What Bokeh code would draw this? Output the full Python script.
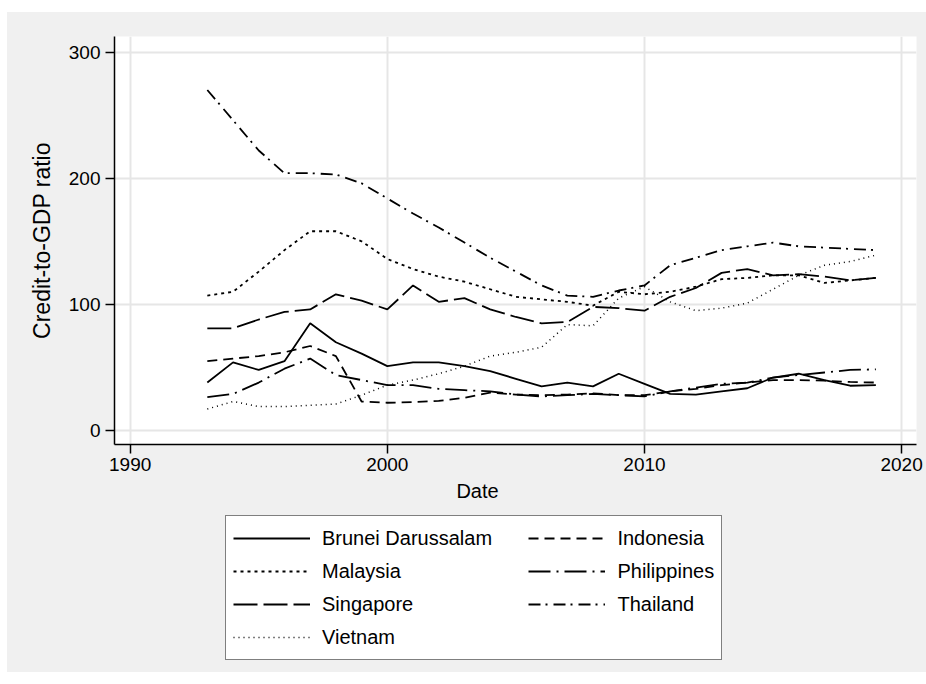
from bokeh.plotting import figure
from bokeh.layouts import column
from bokeh.models import Range1d, FixedTicker, Legend, LegendItem, Label
from bokeh.embed import file_html
from bokeh.resources import INLINE

years = list(range(1993, 2020))

brunei = [38, 54, 48, 55, 85, 70, 61, 51, 54, 54, 51, 47, 41, 35, 38, 35, 45, 37,
          29, 28.5, 31, 33.5, 42, 45, 40, 35.5, 36]
indonesia = [55, 57, 59, 62, 67, 59, 23, 22, 22.5, 23.5, 26, 30, 28.5, 28, 28.5, 29.5,
             28, 28, 31, 33, 36, 38, 40, 40, 39.5, 38.5, 38]
malaysia = [107, 110, 126, 143, 158, 158, 150, 136, 128, 122, 118, 112, 106, 104, 102,
            99, 110, 108, 110, 114, 120, 121, 123, 123, 117, 119, 121]
philippines = [26.5, 29, 38, 49, 57, 44, 40, 36, 36, 33, 32, 31, 28.5, 27, 28, 29, 28,
               27, 31, 34, 37, 38, 42, 44, 46, 48, 48.5]
singapore = [81, 81, 88, 94, 96, 108, 103, 96, 115, 102, 105, 96, 90, 85, 86, 98, 97,
             95, 106, 113, 125, 128, 123, 124, 122, 119, 121]
thailand = [270, 246, 222, 204, 204, 203, 196, 184, 172, 161, 149, 137, 126, 115, 107,
            106, 111, 115, 131, 137, 143, 146, 149, 146, 145, 144, 143]
vietnam = [17, 23, 19, 19, 20, 21, 28, 36, 40, 45, 51, 59, 62, 66, 84, 83, 105, 114,
           102, 95, 97, 101, 112, 123, 131, 134, 139]

x_ticks = [1990, 2000, 2010, 2020]
y_ticks = [0, 100, 200, 300]

FONT = "Liberation Sans"
BG = "#f0f0f0"
OFF_X, OFF_Y = 7, 12          # white page strip left of / above the graph
W = 926 - OFF_X
LEFT = 114 - OFF_X
RIGHT = 926 - 916

p = figure(width=W, height=479 - OFF_Y, output_backend="svg", toolbar_location=None,
           x_range=Range1d(1989.39, 2020.58), y_range=Range1d(-11.1, 312.4),
           min_border_left=LEFT, min_border_right=RIGHT, min_border_top=36 - OFF_Y,
           min_border_bottom=35)
p.background_fill_color = "white"
p.border_fill_color = BG
p.outline_line_color = None

for ax in (p.xaxis[0], p.yaxis[0]):
    ax.axis_line_color = "black"
    ax.axis_line_width = 1.5
    ax.major_tick_line_color = "black"
    ax.major_tick_line_width = 1.5
    ax.major_tick_out = 9
    ax.major_tick_in = 0
    ax.minor_tick_line_color = None
    ax.major_label_text_font = FONT
    ax.major_label_text_font_size = "19px"
    ax.major_label_text_color = "black"
    ax.axis_label_text_font = FONT
    ax.axis_label_text_font_style = "normal"
    ax.axis_label_text_color = "black"

p.xaxis.ticker = FixedTicker(ticks=x_ticks)
p.yaxis.ticker = FixedTicker(ticks=y_ticks)
p.xaxis.major_label_standoff = 4
p.yaxis.major_label_standoff = 5
p.yaxis.major_label_orientation = "horizontal"
p.yaxis.axis_label = "Credit-to-GDP ratio"
p.yaxis.axis_label_text_font_size = "23px"
p.yaxis.axis_label_standoff = 11

p.xgrid.ticker = FixedTicker(ticks=x_ticks)
p.ygrid.ticker = FixedTicker(ticks=y_ticks)
for g in (p.xgrid[0], p.ygrid[0]):
    g.grid_line_color = "#e6e6e6"
    g.grid_line_width = 2

series = [
    ("Brunei Darussalam", brunei, "solid", 1.8),
    ("Indonesia", indonesia, "10 6", 1.8),
    ("Malaysia", malaysia, "3 4", 1.8),
    ("Philippines", philippines, "22 6 2 6", 1.8),
    ("Singapore", singapore, "24 6", 1.8),
    ("Thailand", thailand, "12 5 2 6", 1.8),
    ("Vietnam", vietnam, "1 4", 1.5),
]

# lower strip: x-axis title and legend (x in page pixels, y from strip top)
H2 = 193
q = figure(width=W, height=H2, output_backend="svg", toolbar_location=None,
           x_range=Range1d(114, 916), y_range=Range1d(H2, 0),
           x_axis_location=None, y_axis_location=None,
           min_border_left=LEFT, min_border_right=RIGHT,
           min_border_top=0, min_border_bottom=0)
q.background_fill_color = BG
q.border_fill_color = BG
q.outline_line_color = None
q.grid.visible = False

items = []
for name, vals, dash, lw in series:
    p.line(years, vals, line_color="black", line_width=lw, line_dash=dash)
    # off-screen twin so the legend (in the lower strip) can draw its sample
    r = q.line(x=[0, 1], y=[-50, -50], line_color="black", line_width=lw,
               line_dash=dash)
    label = name + ("\u00a0" * 6 if name == "Brunei Darussalam" else "")
    items.append(LegendItem(label=label, renderers=[r]))

date_label = Label(x=477, y=11, text="Date", text_align="center",
                   text_baseline="middle", text_font=FONT,
                   text_font_size="20px", text_color="black")
q.add_layout(date_label)

legend = Legend(items=items, location=(111, 12), orientation="horizontal", ncols=2,
                margin=0, padding=7, spacing=3, glyph_width=77, glyph_height=30,
                label_height=30, label_standoff=12,
                label_text_font=FONT, label_text_font_size="20px",
                label_text_color="black",
                border_line_color="black", border_line_width=1,
                background_fill_color="white", background_fill_alpha=1.0)
q.add_layout(legend)

layout = column(p, q, spacing=0, margin=(OFF_Y, 0, 0, OFF_X),
                styles={"background-color": BG})
open("out.html", "w").write(file_html(layout, INLINE))
